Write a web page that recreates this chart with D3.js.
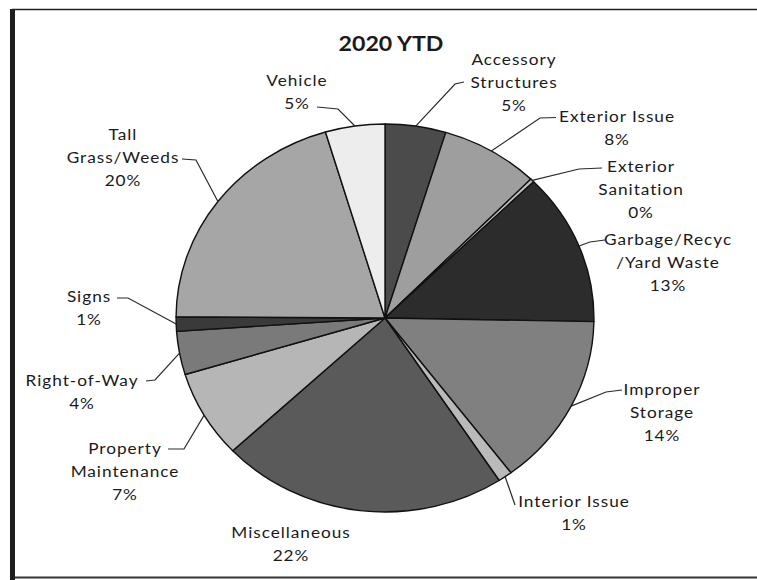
<!DOCTYPE html>
<html>
<head>
<meta charset="utf-8">
<script src="https://cdn.jsdelivr.net/npm/d3@7"></script>
<style>
  html, body { margin: 0; padding: 0; background: #fff; }
  svg { display: block; }
  text { font-family: Lato, "Open Sans", sans-serif; fill: #1a1a1a; }
</style>
</head>
<body>
<div id="chart"></div>
<script>
// Code enforcement cases by category, 2020 year to date (share of total, %)
const categories = [
  "Accessory Structures", "Exterior Issue", "Exterior Sanitation",
  "Garbage/Recyc /Yard Waste", "Improper Storage", "Interior Issue",
  "Miscellaneous", "Property Maintenance", "Right-of-Way", "Signs",
  "Tall Grass/Weeds", "Vehicle"
];
const shares = [4.7, 7.6, 0.3, 12.7, 14.4, 1.1, 22.2, 7.3, 3.6, 1.2, 20.3, 4.6];
const labelLines = [
  ["Accessory", "Structures"], ["Exterior Issue"], ["Exterior", "Sanitation"],
  ["Garbage/Recyc", "/Yard Waste"], ["Improper", "Storage"], ["Interior Issue"],
  ["Miscellaneous"], ["Property", "Maintenance"], ["Right-of-Way"], ["Signs"],
  ["Tall", "Grass/Weeds"], ["Vehicle"]
];
const sliceFills = [
  "#4b4b4b", "#9e9e9e", "#bdbdbd", "#2c2c2c", "#808080", "#bababa",
  "#5a5a5a", "#b6b6b6", "#7a7a7a", "#3a3a3a", "#a6a6a6", "#ededed"
];
const title = "2020 YTD";

// Label placement: centre x, first-line centre y, leader end and elbow
const labelLayout = [
  { x: 514, y: 59,    end: [464, 82],    elbow: [455, 84] },
  { x: 617, y: 116.5, end: [556, 117.5], elbow: [540, 118] },
  { x: 641, y: 166,   end: [602, 168],   elbow: [579, 169] },
  { x: 668, y: 239,   end: [605, 240],   elbow: [590, 242] },
  { x: 662, y: 389,   end: [622, 390],   elbow: [606, 392] },
  { x: 574, y: 501,   end: [515, 505],   elbow: [515, 505] },
  { x: 291, y: 532,   end: null,         elbow: null },
  { x: 125, y: 448,   end: [168, 449],   elbow: [184, 449] },
  { x: 82,  y: 380,   end: [146, 381],   elbow: [155, 380] },
  { x: 89,  y: 296,   end: [117, 298],   elbow: [128, 298] },
  { x: 123, y: 134,   end: [182, 159],   elbow: [196, 160] },
  { x: 297, y: 80,    end: [317, 107],   elbow: [338, 109] }
];

const W = 757, H = 580;
const cx = 385, cy = 318, radius = 194, stretch = 1.077;
const lineGap = 23, fontSize = 16, textStretch = 1.077, tracking = 0.9;

const svg = d3.select("#chart").append("svg")
  .attr("width", W).attr("height", H);

// frame
svg.append("line").attr("x1", 12).attr("x2", W).attr("y1", 9.5).attr("y2", 9.5)
  .attr("stroke", "#222").attr("stroke-width", 1.6);
svg.append("line").attr("x1", 12).attr("x2", W).attr("y1", 577.5).attr("y2", 577.5)
  .attr("stroke", "#333").attr("stroke-width", 2);
svg.append("rect").attr("x", 10).attr("y", 9).attr("width", 5).attr("height", H - 9)
  .attr("fill", "#1e1e1e");

const data = categories.map((c, i) => ({ name: c, value: shares[i], i }));
const pie = d3.pie().sort(null).value(d => d.value);
const arcs = pie(data);
const arc = d3.arc().innerRadius(0).outerRadius(radius);

const g = svg.append("g")
  .attr("transform", `translate(${cx},${cy}) scale(${stretch},1)`);
g.selectAll("path").data(arcs).join("path")
  .attr("d", arc)
  .attr("fill", d => sliceFills[d.data.i])
  .attr("stroke", "#111")
  .attr("stroke-width", 1.4)
  .attr("vector-effect", "non-scaling-stroke")
  .attr("stroke-linejoin", "round");

// rim point at the middle of each slice, in page coordinates
function rimPoint(d) {
  const a = (d.startAngle + d.endAngle) / 2;
  return [cx + Math.sin(a) * radius * stretch, cy - Math.cos(a) * radius];
}

const line = d3.line();
arcs.forEach(d => {
  const L = labelLayout[d.data.i];
  if (!L.end) return;
  svg.append("path")
    .attr("d", line([rimPoint(d), L.elbow, L.end]))
    .attr("fill", "none")
    .attr("stroke", "#2a2a2a")
    .attr("stroke-width", 1.2);
});

// labels: category name lines plus rounded percentage
arcs.forEach(d => {
  const L = labelLayout[d.data.i];
  const lines = labelLines[d.data.i].concat([d3.format(".0f")(d.data.value) + "%"]);
  lines.forEach((t, k) => {
    svg.append("text")
      .attr("transform", `translate(${L.x},${L.y + k * lineGap}) scale(${textStretch},1)`)
      .attr("text-anchor", "middle")
      .attr("dy", "0.36em")
      .attr("font-size", fontSize)
      .attr("letter-spacing", tracking)
      .text(t);
  });
});

svg.append("text")
  .attr("transform", `translate(391,43) scale(${textStretch},1)`)
  .attr("text-anchor", "middle")
  .attr("dy", "0.36em")
  .attr("font-size", 21.5)
  .attr("font-weight", "bold")
  .text(title);
</script>
</body>
</html>
